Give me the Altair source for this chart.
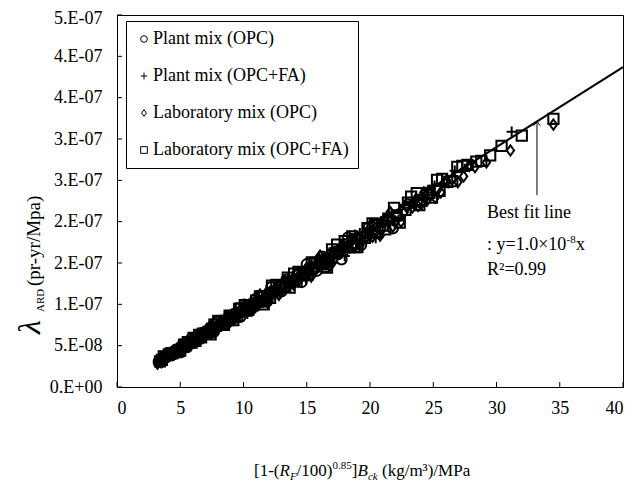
import altair as alt
import pandas as pd

# ---------------- data ----------------
series_names = ["Plant mix (OPC)", "Plant mix (OPC+FA)",
                "Laboratory mix (OPC)", "Laboratory mix (OPC+FA)"]

# y values are given in units of 1e-8 pr-yr/MPa
Y_UNIT = 1e-8

plant_opc_x = [3.3, 3.6, 3.9, 4.2, 4.5, 4.8, 5.1, 5.4, 5.7, 6.0, 6.3, 6.6, 6.9, 7.2, 7.5,
               7.8, 8.1, 8.4, 8.7, 9.0, 9.3, 9.6, 9.9, 10.2, 10.5, 10.8, 11.1, 11.4, 11.7,
               12.0, 12.4, 12.8, 13.2, 13.6, 14.0, 14.4, 14.8, 15.2, 15.6, 16.0, 16.5, 17.0,
               17.5, 18.0, 18.5, 19.0, 19.6, 20.2, 20.8, 21.5, 22.2, 23.0, 24.0, 25.2,
               3.45, 3.75, 4.05, 4.35, 4.65, 4.95, 5.25, 5.55, 5.85, 6.15, 6.45, 6.75, 7.05,
               7.35, 7.65, 7.95, 8.25, 8.55, 8.85, 9.15, 9.45, 9.75, 10.05, 10.35, 10.65,
               10.95, 11.25, 11.55, 11.85, 12.2, 12.6, 13.0, 13.4, 13.8, 14.2, 14.6, 15.0,
               15.4, 15.8, 16.25, 16.75, 17.25, 17.75, 18.25, 18.75, 19.3, 19.9, 20.5, 21.1,
               21.8]
plant_opc_y = [3.07, 3.24, 3.74, 3.82, 4.28, 4.42, 4.95, 4.86, 5.36, 5.46, 6.05, 6.07, 6.56,
               6.48, 7.28, 7.25, 7.37, 7.98, 8.00, 8.64, 8.37, 9.02, 9.11, 9.79, 9.56, 10.15,
               10.21, 10.94, 10.53, 11.40, 11.41, 12.29, 12.01, 12.78, 12.88, 13.82, 13.47,
               14.44, 14.35, 15.36, 15.02, 16.15, 16.10, 17.28, 17.02, 18.05, 18.23, 19.39,
               19.14, 20.43, 20.65, 22.08, 22.32, 23.94,
               3.00, 3.71, 3.77, 3.87, 4.51, 4.50, 4.99, 4.83, 5.79, 5.72, 5.74, 6.55, 6.42,
               6.98, 6.66, 7.87, 7.67, 7.61, 8.58, 8.33, 8.98, 8.48, 9.95, 9.63, 9.48, 10.62,
               10.24, 10.97, 10.31, 12.08, 11.72, 11.57, 13.00, 12.56, 13.49, 12.70, 14.85,
               14.32, 14.06, 15.76, 15.24, 16.39, 15.44, 18.07, 17.44, 17.18, 19.30, 18.66,
               20.05, 19.18]

plant_fa_x = [3.5, 4.0, 4.6, 5.2, 5.8, 6.4, 7.0, 7.6, 8.2, 8.8, 9.4, 10.0, 10.6, 11.2, 11.8,
              12.5, 13.2, 13.9, 14.6, 15.3, 16.0, 16.8, 17.6, 18.4, 19.2, 20.0, 20.9, 21.8,
              22.7, 23.6, 24.6, 25.6, 26.7, 27.5, 31.2,
              3.75, 4.3, 4.9, 5.5, 6.1, 6.7, 7.3, 7.9, 8.5, 9.1, 9.7, 10.3, 10.9, 11.5,
              12.15, 12.85, 13.55, 14.25, 14.95, 15.65, 16.4, 17.2, 18.0, 18.8, 19.6, 20.45,
              21.35, 22.25, 23.15, 24.1, 25.1, 26.2]
plant_fa_y = [3.29, 3.56, 4.37, 4.68, 5.57, 5.70, 6.58, 6.84, 7.87, 7.83, 8.93, 9.00, 10.28,
              10.08, 11.21, 11.13, 12.67, 12.51, 13.87, 13.92, 15.52, 15.12, 16.72, 16.74,
              18.62, 18.20, 20.06, 20.06, 22.02, 21.95, 23.86, 24.32, 26.17, 26.40, 30.89,
              3.56, 3.78, 4.80, 5.06, 5.25, 6.43, 6.57, 7.51, 7.48, 8.92, 8.92, 8.86, 10.46,
              10.35, 11.54, 11.31, 13.28, 13.11, 13.01, 15.02, 14.76, 16.34, 15.84, 18.42,
              18.03, 18.00, 20.50, 20.25, 21.99, 21.93, 24.35, 24.63]

lab_opc_x = [3.2, 3.8, 4.4, 5.0, 5.6, 6.2, 6.8, 7.4, 8.0, 8.6, 9.2, 9.8, 10.4, 11.0, 11.6,
             12.2, 12.9, 13.6, 14.3, 15.0, 15.7, 16.4, 17.2, 18.0, 18.8, 19.6, 20.4, 21.2,
             22.0, 22.9, 23.8, 24.7, 25.6, 26.5, 27.4, 28.3, 29.2, 31.1, 34.5,
             3.5, 4.1, 4.7, 5.3, 5.9, 6.5, 7.1, 7.7, 8.3, 8.9, 9.5, 10.1, 10.7, 11.3, 11.9,
             12.55, 13.25, 13.95, 14.65, 15.35, 16.05, 16.8, 17.6, 18.4, 19.2, 20.0, 20.8,
             21.6, 22.45, 23.35, 24.25, 25.15, 26.05, 26.95, 27.85,
             3.65, 4.3, 4.95, 5.6, 6.25, 6.9, 7.55, 8.2, 8.85, 9.5, 10.15, 10.8, 11.45,
             12.1, 12.8, 13.5, 14.2, 14.9, 15.6, 16.3, 17.0, 17.8, 18.6, 19.4, 20.2, 21.0,
             21.8, 22.7, 23.6, 24.5]
lab_opc_y = [2.82, 3.53, 3.87, 4.70, 4.98, 5.89, 5.98, 6.96, 7.12, 8.17, 8.10, 9.21, 9.26,
             10.45, 10.32, 11.47, 11.48, 12.92, 12.73, 14.10, 14.13, 15.58, 15.48, 16.92,
             16.92, 18.62, 18.56, 20.14, 20.02, 21.76, 21.90, 23.71, 23.55, 25.18, 25.48,
             26.60, 27.16, 28.61, 31.74,
             3.01, 3.77, 4.56, 4.72, 5.55, 5.66, 7.03, 6.62, 7.64, 8.63, 8.46, 9.49, 9.31,
             11.19, 10.23, 11.55, 12.85, 12.42, 13.77, 13.35, 15.89, 14.62, 16.19, 17.85,
             17.09, 18.80, 18.30, 21.17, 19.98, 21.72, 23.52, 22.89, 25.01, 24.79, 26.74,
             3.29, 4.09, 4.31, 5.21, 6.06, 6.28, 6.80, 7.79, 7.70, 8.84, 9.85, 9.83, 10.31,
             11.50, 11.14, 12.56, 13.77, 13.56, 14.04, 15.49, 14.96, 16.55, 17.86, 17.65,
             18.18, 19.95, 19.40, 21.11, 22.66, 22.54]

lab_fa_x = [3.4, 4.1, 4.7, 5.3, 5.9, 6.5, 7.1, 7.7, 8.3, 8.9, 9.5, 10.1, 10.7, 11.3, 11.9,
            12.6, 13.3, 14.0, 14.7, 15.4, 16.2, 17.0, 17.8, 18.6, 19.4, 20.2, 21.0, 21.9,
            22.8, 23.7, 24.5, 25.3, 26.1, 26.9, 27.7, 28.4, 28.8, 29.5, 30.4, 32.0, 34.5,
            3.7, 4.4, 5.0, 5.6, 6.2, 6.8, 7.4, 8.0, 8.6, 9.2, 9.8, 10.4, 11.0, 11.6, 12.25,
            12.95, 13.65, 14.35, 15.05, 15.8, 16.6, 17.4, 18.2, 19.0, 19.8, 20.6, 21.45,
            22.35, 23.25, 24.1, 24.9, 25.7, 26.5, 27.3,
            3.55, 4.25, 4.85, 5.45, 6.05, 6.65, 7.25, 7.85, 8.45, 9.05, 9.65, 10.25, 10.85,
            11.45, 12.1, 12.8, 13.5, 14.2, 14.9, 15.6, 16.4, 17.2, 18.0, 18.8, 19.6, 20.4,
            21.2, 22.1, 23.0, 23.9, 24.7, 25.5]
lab_fa_y = [3.09, 3.94, 4.23, 5.14, 5.37, 6.31, 6.46, 7.55, 7.55, 8.63, 8.65, 9.90, 9.84,
            10.96, 10.83, 12.35, 12.24, 13.72, 13.52, 15.09, 14.90, 16.66, 16.55, 18.23,
            18.04, 19.80, 19.53, 21.68, 21.43, 23.46, 23.28, 25.05, 24.80, 26.63, 26.87,
            27.26, 27.36, 28.03, 29.18, 30.40, 32.43,
            3.70, 4.09, 4.40, 5.43, 5.58, 6.46, 6.36, 8.00, 8.00, 8.10, 9.51, 9.36, 10.45,
            9.98, 12.25, 12.04, 12.01, 13.92, 13.55, 15.01, 14.44, 17.23, 16.93, 16.91,
            19.21, 18.75, 20.38, 19.89, 23.02, 22.65, 22.91, 25.19, 24.91, 26.75,
            3.27, 4.08, 4.32, 5.12, 5.93, 5.99, 6.67, 7.54, 7.52, 8.51, 9.46, 9.23, 9.98,
            10.99, 10.77, 12.03, 13.23, 12.78, 13.71, 14.98, 14.60, 16.17, 17.64, 16.92,
            18.03, 19.58, 19.08, 20.77, 22.31, 21.99, 23.47, 23.72]

fit_x = [3.0, 40.0]
fit_y = [2.9e-8, 3.87e-7]

arrow_x = [33.2]
arrow_y_bottom = [2.32e-7]
arrow_y_top = [3.21e-7]

x_ticks = [0, 5, 10, 15, 20, 25, 30, 35, 40]
y_ticks = [0, 5e-8, 1e-7, 1.5e-7, 2e-7, 2.5e-7, 3e-7, 3.5e-7, 4e-7, 4.5e-7]
y_tick_labels = ["0.E+00", "5.E-08", "1.E-07", "2.E-07", "2.E-07",
                 "3.E-07", "3.E-07", "4.E-07", "4.E-07", "5.E-07"]

# ---------------- build tables ----------------
rows = []
for name, xs, ys in zip(series_names,
                        [plant_opc_x, plant_fa_x, lab_opc_x, lab_fa_x],
                        [plant_opc_y, plant_fa_y, lab_opc_y, lab_fa_y]):
    for xv, yv in zip(xs, ys):
        rows.append({"series": name, "x": xv, "y": yv * Y_UNIT})
df = pd.DataFrame(rows)

SERIF = "Liberation Serif"
W, H = 506, 372

shapes = ["circle", "M-1,0L1,0M0,-1L0,1", "M0,-1L0.72,0L0,1L-0.72,0Z", "square"]

label_expr = "[" + ",".join("'%s'" % s for s in y_tick_labels) + "][round(datum.value/5e-8)]"

xscale = alt.Scale(domain=[0, 40], nice=False, zero=False)
yscale = alt.Scale(domain=[0, 4.5e-7], nice=False)

points = alt.Chart(df).mark_point(filled=False, color="black", strokeWidth=2,
                                  size=105, opacity=1).encode(
    x=alt.X("x:Q", scale=xscale,
            axis=alt.Axis(values=x_ticks, format="d", title=None, labelPadding=12,
                          labelFont=SERIF, labelFontSize=18, labelColor="black")),
    y=alt.Y("y:Q", scale=yscale,
            axis=alt.Axis(values=y_ticks, labelExpr=label_expr, title=None, labelPadding=15,
                          labelFont=SERIF, labelFontSize=18, labelColor="black",
                          labelOffset={"condition": {"test": "datum.value > 4.4e-7",
                                                     "value": 3},
                                       "value": 0})),
    shape=alt.Shape("series:N", sort=series_names,
                    scale=alt.Scale(domain=series_names, range=shapes),
                    legend=alt.Legend(title=None, orient="none", legendX=9, legendY=6,
                                      strokeColor="black", fillColor="white", padding=9,
                                      rowPadding=19, symbolSize=45, symbolStrokeWidth=1,
                                      symbolStrokeColor="black",
                                      labelFont=SERIF, labelFontSize=18, labelColor="black",
                                      labelLimit=400, labelOffset=0)),
)

fit = alt.Chart(pd.DataFrame({"x": fit_x, "y": fit_y})).mark_line(
    color="black", strokeWidth=2).encode(x="x:Q", y="y:Q")

arrow = alt.Chart(pd.DataFrame({"x": arrow_x, "y": arrow_y_bottom, "y2": arrow_y_top})).mark_rule(
    color="black", strokeWidth=1).encode(x="x:Q", y="y:Q", y2="y2:Q")
arrow_head = alt.Chart(pd.DataFrame({"x": arrow_x, "y": arrow_y_top})).mark_point(
    shape="M-0.8,1L0,0L0.8,1", filled=False, color="black", strokeWidth=1,
    size=70, opacity=1).encode(x="x:Q", y="y:Q")

# inward ticks
ytick_layer = alt.Chart(pd.DataFrame({"y": y_ticks})).mark_rule(color="black").encode(
    y="y:Q", x=alt.value(0), x2=alt.value(5))
xtick_layer = alt.Chart(pd.DataFrame({"x": x_ticks})).mark_rule(color="black").encode(
    x="x:Q", y=alt.value(H), y2=alt.value(H - 5))


def txt(s, x, y, size, italic=False, angle=0, baseline="alphabetic", align="left"):
    kw = dict(text=s, font=SERIF, fontSize=size, color="black", align=align,
              baseline=baseline)
    if italic:
        kw["fontStyle"] = "italic"
    if angle:
        kw["angle"] = angle
    return alt.Chart(pd.DataFrame({"t": [s]})).mark_text(**kw).encode(
        x=alt.value(x), y=alt.value(y))


XB = 461  # baseline of x title
x_title = [
    txt("[1-(", 137, XB, 17),
    txt("R", 162.5, XB, 17, italic=True),
    txt("F", 172.9, XB + 4, 11, italic=True),
    txt("/100)", 179.6, XB, 17),
    txt("0.85", 215.5, XB - 7, 11),
    txt("]", 234.8, XB, 17),
    txt("B", 240.5, XB, 17, italic=True),
    txt("ck", 250.9, XB + 4, 11, italic=True),
    txt("(kg/m³)/MPa", 265, XB, 17),
]

y_title = [
    txt("λ", -77, 319, 32, italic=True, angle=270),
    txt("ARD", -73, 297, 11, angle=270),
    txt("(pr-yr/Mpa)", -77, 271, 19, angle=270),
]

annot = [
    txt("Best fit line", 370, 198, 18, baseline="middle"),
    txt(": y=1.0×10", 370, 230, 18, baseline="middle"),
    txt("-8", 449.5, 225, 11, baseline="middle"),
    txt("x", 459, 230, 18, baseline="middle"),
    txt("R²=0.99", 370, 255, 18, baseline="middle"),
]

chart = alt.layer(points, fit, arrow, arrow_head, ytick_layer, xtick_layer,
                  *x_title, *y_title, *annot).properties(
    width=W, height=H,
    background="white",
    autosize=alt.AutoSizeParams(type="none"),
    padding={"left": 109, "top": 7, "right": 11, "bottom": 97},
).configure_view(stroke="black", strokeWidth=1).configure_axis(
    grid=False, ticks=False, domainColor="black", labelFont=SERIF, labelFontSize=18,
    labelColor="black",
)

chart.save("out.html", embed_options={"renderer": "svg", "actions": False})
